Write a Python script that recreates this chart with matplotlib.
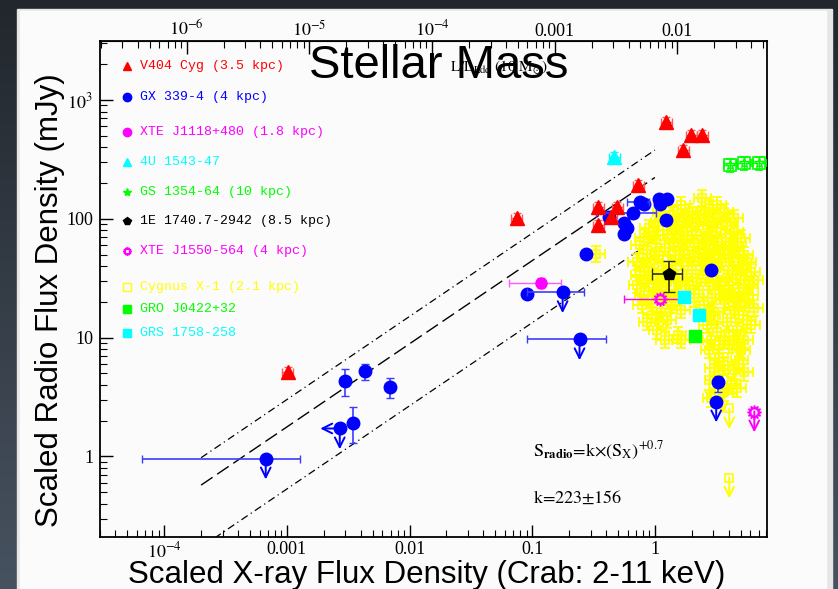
import numpy as np
import matplotlib.pyplot as plt
from matplotlib.patches import Rectangle
from matplotlib.colors import LinearSegmentedColormap
from matplotlib.ticker import FixedLocator, LogLocator, NullFormatter

plt.rcParams['mathtext.fontset'] = 'stix'

# --- data: scaled X-ray flux (Crab) vs scaled radio flux (mJy) ---
v404_x = [0.00102, 0.0745, 0.347, 0.495, 0.442, 0.347, 0.734, 1.24, 1.71, 1.98, 2.44]
v404_y = [5.1, 101, 125, 125, 103, 88, 192, 651, 378, 506, 506]

gx_x = [0.0899, 0.272, 0.426, 0.565, 0.59, 0.565, 0.821, 1.09, 1.26, 1.11, 1.24, 2.88]
gx_y = [23.2, 50.3, 103, 91.8, 83, 74, 133, 146, 146, 133, 97.3, 36.9]

gx_bar_x = [0.00296, 0.00432, 0.00687, 0.00344, 0.668, 0.762, 3.29]
gx_bar_y = [4.28, 5.2, 3.81, 1.93, 111, 138, 4.2]
gx_bar_xlo = [0.0027, 0.0040, 0.0063, 0.00344, 0.33, 0.59, 3.29]
gx_bar_xhi = [0.0032, 0.0047, 0.0075, 0.00344, 1.03, 0.90, 3.29]
gx_bar_ylo = [3.2, 4.4, 3.1, 1.29, 111, 138, 3.5]
gx_bar_yhi = [5.4, 6.0, 4.6, 2.59, 111, 138, 4.8]

# upper limits (radio), last one also an X-ray upper limit
gx_ul_x = [0.000673, 0.177, 0.243, 3.16, 0.0027]
gx_ul_y = [0.96, 24.1, 9.67, 2.9, 1.72]
gx_ul_xlo = [0.0000658, 0.0899, 0.0899, 3.16, 0.0027]
gx_ul_xhi = [0.00127, 0.262, 0.403, 3.16, 0.0027]

j1118_x, j1118_y = [0.119], [28.7]
j1118_xlo, j1118_xhi = [0.0653], [0.173]
j1118_ylo, j1118_yhi = [26.0], [31.5]

u1543_x, u1543_y = [0.468], [330]

gs1354_x = [4.12, 5.35, 7.1]
gs1354_y = [283, 294, 294]

e1740_x, e1740_y = [1.31], [34.1]
e1740_xlo, e1740_xhi = [0.94], [1.67]
e1740_ylo, e1740_yhi = [24.1], [44.0]

j1550_x, j1550_y = [1.11], [21.0]
j1550_xlo, j1550_xhi = [0.56], [1.67]
j1550_ul_x, j1550_ul_y = [6.46], [2.39]

cyg_x = [1.64, 1.91, 2.44, 2.78, 3.23, 3.68, 2.18, 1.44,
         0.90, 1.09, 1.26, 1.53, 1.84, 2.22, 2.68, 3.23, 3.89, 4.44, 5.06,
         0.75, 0.87, 1.03, 1.20, 1.44, 1.74, 2.10, 2.53, 3.05, 3.68, 4.44, 5.36,
         0.71, 0.82, 0.99, 1.15, 1.39, 1.68, 2.02, 2.44, 2.94, 3.55, 4.28, 5.16, 6.11,
         0.72, 0.87, 1.05, 1.26, 1.53, 1.91, 2.30, 2.78, 3.35, 4.04, 4.88, 5.88,
         0.78, 0.94, 1.13, 1.36, 1.64, 2.53, 3.05, 3.68, 4.44, 5.36, 6.46,
         0.87, 1.05, 1.26, 1.53, 2.68, 3.23, 3.89, 4.70, 5.67,
         2.78, 3.35, 4.04, 4.88, 3.05, 4.44,
         3.05, 3.68, 4.20, 2.89, 0.33,
         1.20, 1.74, 2.53, 0.99, 1.39, 2.02, 2.94, 3.82,
         1.09, 1.58, 2.30, 3.35, 0.90, 1.26, 1.84, 2.68, 3.89, 5.36,
         1.15, 2.10, 2.94, 4.70, 0.94, 3.68, 5.36,
         0.82, 1.68, 2.44, 3.55, 4.70, 0.87, 1.91, 2.78, 4.04, 5.67,
         0.75, 1.05, 1.53, 2.22, 3.23, 4.70, 6.46, 0.82, 1.39, 4.04, 5.88,
         1.13, 3.05, 4.44, 1.09, 2.89, 4.88, 6.11,
         2.89, 4.44, 3.35, 5.06, 3.68, 5.36, 3.35, 4.70, 1.20, 1.64]
cyg_y = [130, 114, 149, 123, 130, 114, 107, 107,
         83.3, 93.6, 80.2, 88.3, 83.3, 93.6, 88.3, 83.3, 93.6, 77.1, 68.6,
         59.9, 54.4, 66.0, 56.5, 63.5, 54.4, 62.3, 54.4, 59.9, 54.4, 56.5, 49.4,
         43.1, 38.4, 44.8, 36.9, 40.6, 43.1, 36.9, 43.1, 38.4, 43.1, 36.9, 40.6, 35.5,
         27.6, 30.4, 25.0, 29.2, 24.1, 27.6, 25.0, 29.2, 25.0, 27.6, 24.1, 27.6,
         18.7, 20.6, 16.3, 18.7, 17.0, 18.7, 16.3, 20.6, 17.0, 19.8, 17.7,
         13.5, 11.5, 14.0, 10.5, 12.7, 11.1, 13.5, 11.5, 14.0,
         7.82, 6.69, 8.61, 6.44, 5.51, 5.30,
         4.37, 3.46, 3.96, 3.08, 50.3,
         107, 101, 101, 72.8, 72.8, 72.8, 72.8, 68.6,
         49.4, 49.4, 47.5, 49.4, 33.5, 33.5, 31.6, 33.5, 31.6, 30.4,
         22.7, 21.4, 21.4, 20.6, 15.4, 9.49, 9.49,
         68.6, 66.0, 66.0, 63.5, 63.5, 46.6, 46.6, 44.8, 46.6, 43.1,
         33.5, 30.4, 31.6, 29.2, 30.4, 33.5, 30.4, 22.7, 21.4, 21.4, 22.7,
         114, 101, 101, 13.5, 15.4, 15.4, 12.7,
         9.49, 9.49, 8.61, 7.82, 5.84, 5.10, 4.81, 3.74, 9.49, 9.49]
cyg_ul_x = [2.78, 3.55, 4.04, 4.04]
cyg_ul_y = [4.37, 3.39, 2.54, 0.665]
cyg_xfac, cyg_yfac = 1.18, 1.17

gro_x, gro_y = [2.14], [10.3]
grs_x, grs_y = [1.74, 2.30], [21.9, 15.4]

k_fit, k_err, slope = 223, 156, 0.7
fit_x = [2e-4, 1.0]

RED, BLUE, MAG, CYAN, GREEN, YEL = '#ff0000', '#0000ff', '#ff00ff', '#00ffff', '#00ff00', '#ffff00'
SUN = (12, 1, 0)

fig = plt.figure(figsize=(8.38, 5.89), dpi=100, facecolor='#2b3038')

# slide frame
bg = fig.add_axes([0, 0, 1, 1], zorder=-5)
bg.axis('off')
grad = np.linspace(0, 1, 256)[:, None]
bg.imshow(grad, extent=[0, 1, 0, 1], aspect='auto', origin='lower',
          cmap=LinearSegmentedColormap.from_list('fr', ['#475260', '#22272d']))
bg.add_patch(Rectangle((17 / 838, 0), (832 - 17) / 838, (589 - 9) / 589, color='#e6e6e6',
                       transform=bg.transAxes))
bg.add_patch(Rectangle((20 / 838, 0), (826 - 20) / 838, (589 - 11) / 589, color='#fbfbfb',
                       transform=bg.transAxes))
bg.set_xlim(0, 1)
bg.set_ylim(0, 1)

ax = fig.add_axes([100 / 838, 52 / 589, 667 / 838, 496 / 589])
ax.set_facecolor('#fbfbfb')
ax.set_xscale('log')
ax.set_yscale('log')
ax.set_xlim(3.0e-5, 8.2)
ax.set_ylim(0.21, 3140)


def arrow_down(x, y, color):
    ax.annotate('', xy=(x, y), xytext=(0, -15), textcoords='offset points',
                arrowprops=dict(arrowstyle='<-, head_width=0.35, head_length=0.7', color=color, lw=1.4,
                                shrinkA=0, shrinkB=0), zorder=4)


def arrow_left(x, y, color):
    ax.annotate('', xy=(x, y), xytext=(-14, 0), textcoords='offset points',
                arrowprops=dict(arrowstyle='<-, head_width=0.35, head_length=0.7', color=color, lw=1.4,
                                shrinkA=0, shrinkB=0), zorder=4)


def bars(x, y, xlo, xhi, ylo, yhi):
    x, y = np.array(x), np.array(y)
    return ([x - np.array(xlo), np.array(xhi) - x], [y - np.array(ylo), np.array(yhi) - y])


# fit line and its spread
fx = np.array(fit_x)
ax.plot(fx, k_fit * fx ** slope, color='k', lw=1, dashes=(10, 4), zorder=1)
ax.plot(fx, (k_fit + k_err) * fx ** slope, color='k', lw=0.9, dashes=(6, 3, 1, 3), zorder=1)
ax.plot(fx, (k_fit - k_err) * fx ** slope, color='k', lw=0.9, dashes=(6, 3, 1, 3), zorder=1)

# Cygnus X-1 cloud
cx, cy = np.array(cyg_x), np.array(cyg_y)
ax.errorbar(cx, cy, xerr=[cx - cx / cyg_xfac, cx * cyg_xfac - cx], yerr=[cy - cy / cyg_yfac, cy * cyg_yfac - cy],
            fmt='s', ms=6, mfc='none', mec=YEL, mew=1.3, ecolor=YEL, elinewidth=1.5, capsize=3.5,
            capthick=1.3, zorder=2)
ax.plot(cyg_ul_x, cyg_ul_y, 's', ms=6, mfc='none', mec=YEL, mew=1.2, ls='none', zorder=2)
for x, y in zip(cyg_ul_x, cyg_ul_y):
    arrow_down(x, y, YEL)

# GS 1354-64
gsx, gsy = np.array(gs1354_x), np.array(gs1354_y)
ax.errorbar(gsx, gsy, xerr=[gsx * 0.12, gsx * 0.13], yerr=[gsy * 0.12, gsy * 0.13],
            fmt='s', ms=9, mfc='none', mec=GREEN, mew=1.2, ecolor=GREEN, elinewidth=1, capsize=3, zorder=3)
ax.plot(gsx, gsy, '*', ms=8, mfc='none', mec=GREEN, mew=1, ls='none', zorder=3)

# V404 Cyg
vx, vy = np.array(v404_x), np.array(v404_y)
ax.errorbar(vx, vy, xerr=[vx * 0.1, vx * 0.11], yerr=[vy * 0.1, vy * 0.11], fmt='^', ms=9.5, color=RED,
            ecolor='#ff5a5a', elinewidth=1, capsize=3, zorder=5)

# GX 339-4
ax.plot(gx_x, gx_y, 'o', ms=9, color=BLUE, ls='none', zorder=5)
xe, ye = bars(gx_bar_x, gx_bar_y, gx_bar_xlo, gx_bar_xhi, gx_bar_ylo, gx_bar_yhi)
ax.errorbar(gx_bar_x, gx_bar_y, xerr=xe, yerr=ye, fmt='o', ms=9, color=BLUE, ecolor='#3c3cff',
            elinewidth=1.2, capsize=3, zorder=5)
xe, ye = bars(gx_ul_x, gx_ul_y, gx_ul_xlo, gx_ul_xhi, gx_ul_y, gx_ul_y)
ax.errorbar(gx_ul_x, gx_ul_y, xerr=xe, fmt='o', ms=9, color=BLUE, ecolor='#3c3cff',
            elinewidth=1.2, capsize=3, zorder=5)
for x, y in zip(gx_ul_x, gx_ul_y):
    arrow_down(x, y, BLUE)
arrow_left(gx_ul_x[-1], gx_ul_y[-1], BLUE)

# XTE J1118+480
xe, ye = bars(j1118_x, j1118_y, j1118_xlo, j1118_xhi, j1118_ylo, j1118_yhi)
ax.errorbar(j1118_x, j1118_y, xerr=xe, yerr=ye, fmt='o', ms=8, color=MAG, ecolor='#ff5aff',
            elinewidth=1, capsize=3, zorder=5)

# 4U 1543-47
ux, uy = np.array(u1543_x), np.array(u1543_y)
ax.errorbar(ux, uy, xerr=[ux * 0.1, ux * 0.11], yerr=[uy * 0.1, uy * 0.11], fmt='^', ms=9.5, color=CYAN,
            ecolor=CYAN, elinewidth=1, capsize=3, zorder=5)

# 1E 1740.7-2942
xe, ye = bars(e1740_x, e1740_y, e1740_xlo, e1740_xhi, e1740_ylo, e1740_yhi)
ax.errorbar(e1740_x, e1740_y, xerr=xe, yerr=ye, fmt='p', ms=9, color='k', ecolor='#333300',
            elinewidth=1.2, capsize=4, zorder=6)

# XTE J1550-564
xe, ye = bars(j1550_x, j1550_y, j1550_xlo, j1550_xhi, j1550_y, j1550_y)
ax.errorbar(j1550_x, j1550_y, xerr=xe, fmt='none', ecolor=MAG, elinewidth=1, capsize=3, zorder=6)
ax.plot(j1550_x + j1550_ul_x, j1550_y + j1550_ul_y, marker=SUN, ms=10, mfc='none', mec=MAG, mew=1.2,
        ls='none', zorder=6)
arrow_down(j1550_ul_x[0], j1550_ul_y[0], MAG)

# GRO J0422+32, GRS 1758-258
ax.plot(gro_x, gro_y, 's', ms=9, color=GREEN, ls='none', zorder=6)
ax.plot(grs_x, grs_y, 's', ms=9, color=CYAN, ls='none', zorder=6)

# axes, ticks
for s in ax.spines.values():
    s.set_linewidth(1.3)
ax.xaxis.set_major_locator(FixedLocator([1e-4, 1e-3, 1e-2, 1e-1, 1]))
ax.set_xticklabels(['$10^{-4}$', '0.001', '0.01', '0.1', '1'])
ax.yaxis.set_major_locator(FixedLocator([1, 10, 100, 1000]))
ax.set_yticklabels(['1', '10', '100', '$10^{3}$'])
ax.xaxis.set_minor_locator(LogLocator(base=10, subs=np.arange(2, 10)))
ax.yaxis.set_minor_locator(LogLocator(base=10, subs=np.arange(2, 10)))
ax.xaxis.set_minor_formatter(NullFormatter())
ax.yaxis.set_minor_formatter(NullFormatter())
ax.tick_params(which='both', direction='in', top=False, right=False, labelsize=13)
ax.tick_params(axis='x', pad=3)
ax.tick_params(axis='y', pad=5)
ax.tick_params(which='major', length=9, width=1)
ax.tick_params(which='minor', length=5, width=0.8)
for lab in ax.get_xticklabels() + ax.get_yticklabels():
    lab.set_family('Liberation Serif')

edd = 0.00656
top = ax.secondary_xaxis('top', functions=(lambda v: v * edd, lambda v: v / edd))
top.xaxis.set_major_locator(FixedLocator([1e-6, 1e-5, 1e-4, 1e-3, 1e-2]))
top.set_xticklabels(['$10^{-6}$', '$10^{-5}$', '$10^{-4}$', '0.001', '0.01'])
top.xaxis.set_minor_locator(LogLocator(base=10, subs=np.arange(2, 10)))
top.xaxis.set_minor_formatter(NullFormatter())
top.tick_params(which='both', direction='in', labelsize=13, pad=1)
top.tick_params(which='major', length=9, width=1)
top.tick_params(which='minor', length=5, width=0.8)
for lab in top.get_xticklabels():
    lab.set_family('Liberation Serif')

# source key
key = [('^', RED, False, 'V404 Cyg (3.5 kpc)'),
       ('o', BLUE, False, 'GX 339-4 (4 kpc)'),
       ('o', MAG, False, 'XTE J1118+480 (1.8 kpc)'),
       ('^', CYAN, False, '4U 1543-47'),
       ('*', GREEN, False, 'GS 1354-64 (10 kpc)'),
       ('p', 'k', False, '1E 1740.7-2942 (8.5 kpc)'),
       (SUN, MAG, True, 'XTE J1550-564 (4 kpc)'),
       ('s', YEL, True, 'Cygnus X-1 (2.1 kpc)'),
       ('s', GREEN, False, 'GRO J0422+32'),
       ('s', CYAN, False, 'GRS 1758-258')]
key_y = [0.950, 0.887, 0.8165, 0.756, 0.6956, 0.637, 0.5766, 0.504, 0.4597, 0.4113]
for (m, c, hollow, txt), yy in zip(key, key_y):
    ax.plot([0.0405], [yy], marker=m, ms=6, mfc='none' if hollow else c, mec=c, mew=1, ls='none',
            transform=ax.transAxes, clip_on=False)
    ax.text(0.060, yy, txt, color=c, family='Liberation Mono', fontsize=9.5, va='center', ha='left',
            transform=ax.transAxes)

ax.text(0.6495, 0.174, r'S$_{\mathbf{radio}}$=k$\times$(S$_{\rm X}$)$^{+0.7}$', fontsize=13,
        transform=ax.transAxes, va='center', ha='left', family='STIXGeneral')
ax.text(0.6495, 0.079, 'k=%d$\\pm$%d' % (k_fit, k_err), fontsize=13, transform=ax.transAxes,
        va='center', ha='left', family='STIXGeneral')

fig.text(499 / 838, 1 - 67 / 589, r'L/L$_{\rm Edd}$ (10 M$_{\odot}$)', fontsize=11, ha='center',
         va='center', family='STIXGeneral')
fig.text(439 / 838, 1 - 66 / 589, 'Stellar Mass', fontsize=34, ha='center', va='center',
         family='Liberation Sans')
fig.text(427 / 838, 1 - 583 / 589, 'Scaled X-ray Flux Density (Crab: 2-11 keV)', fontsize=22.5,
         ha='center', va='baseline', family='Liberation Sans')
fig.text(50 / 838, 1 - 300 / 589, 'Scaled Radio Flux Density (mJy)', fontsize=22.5, rotation=90,
         ha='center', va='center', family='Liberation Sans')

fig.savefig('out.png', dpi=100, facecolor=fig.get_facecolor())
